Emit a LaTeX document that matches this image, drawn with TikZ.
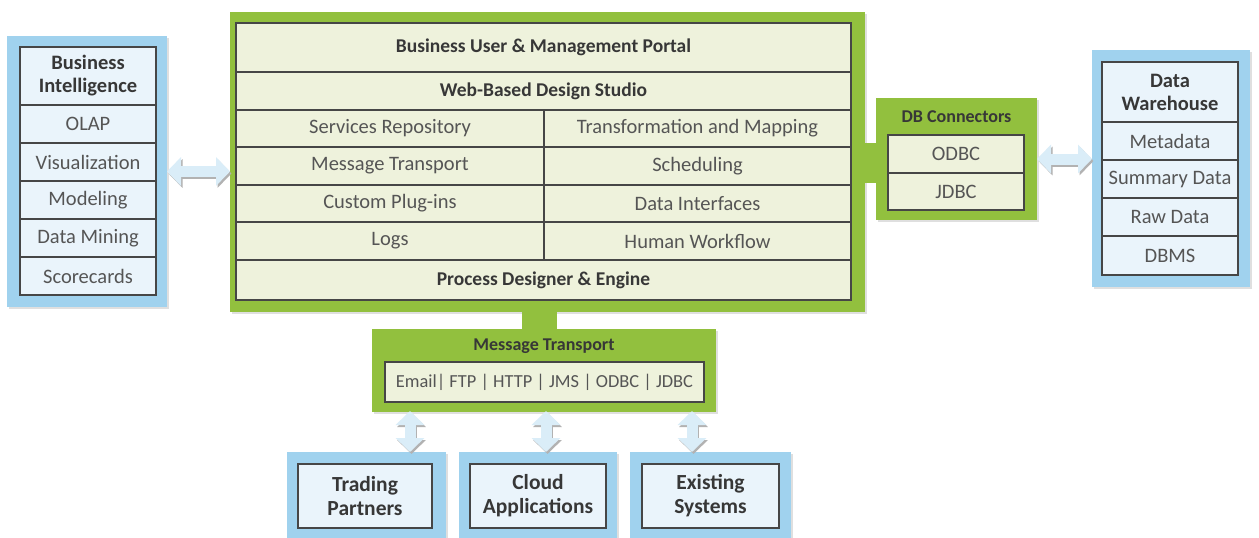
\documentclass[tikz,border=0pt]{standalone}
\usepackage{fontspec}
\setmainfont{Carlito}
\usetikzlibrary{shadows,arrows.meta}
\definecolor{grn}{RGB}{146,192,62}
\definecolor{gcell}{RGB}{238,242,220}
\definecolor{blu}{RGB}{160,210,238}
\definecolor{bcell}{RGB}{234,244,251}
\definecolor{bord}{RGB}{70,70,70}
\definecolor{txt}{RGB}{85,85,85}
\definecolor{hdtxt}{RGB}{55,55,55}
\definecolor{arrblue}{RGB}{218,237,248}
\tikzset{
  base/.style={inner sep=0pt, outer sep=0pt, anchor=north west, align=center},
  panelg/.style={base, fill=grn, draw=none, drop shadow={shadow xshift=2pt, shadow yshift=-2pt, opacity=0.25}},
  panelb/.style={base, fill=blu, draw=none, drop shadow={shadow xshift=2pt, shadow yshift=-2pt, opacity=0.25}},
  cellg/.style={base, draw=bord, line width=1.4pt, fill=gcell, text=txt, font=\fontsize{20.5}{22}\selectfont},
  cellb/.style={base, draw=bord, line width=1.4pt, fill=bcell, text=txt, font=\fontsize{20.5}{22}\selectfont},
  hd/.style={font=\fontsize{19.5}{22}\selectfont\bfseries, text=hdtxt},
  boxhd/.style={font=\fontsize{20.5}{23}\selectfont\bfseries, text=hdtxt},
  lab/.style={inner sep=0pt, font=\fontsize{18}{20}\selectfont\bfseries, text=hdtxt},
  bigarrow/.style={line width=11pt, draw=arrblue, {Triangle[length=14pt,width=28pt]}-{Triangle[length=14pt,width=28pt]}},
  arrshadow/.style={line width=11pt, draw=gray!60, {Triangle[length=14pt,width=28pt]}-{Triangle[length=14pt,width=28pt]}}
}
\begin{document}
\begin{tikzpicture}[x=1pt,y=-1pt]
\useasboundingbox[fill=white] (0,0) rectangle (1259,538);

% ---------- main platform ----------
\node[panelg, minimum width=635pt, minimum height=300pt] (mainbg) at (230,12) {};
\node[cellg, hd, minimum width=615pt, minimum height=49pt] (portal) at (236,23) {Business User \& Management Portal};
\node[cellg, hd, minimum width=615pt, minimum height=38pt] (web) at (236,72) {Web-Based Design Studio};
\node[cellg, minimum width=308pt, minimum height=37pt] (sr) at (236,110) {Services Repository};
\node[cellg, minimum width=307pt, minimum height=37pt] (tm) at (544,110) {Transformation and Mapping};
\node[cellg, minimum width=308pt, minimum height=38pt] (mtr) at (236,147) {Message Transport};
\node[cellg, minimum width=307pt, minimum height=38pt] (sch) at (544,147) {Scheduling};
\node[cellg, minimum width=308pt, minimum height=37pt] (cp) at (236,185) {Custom Plug-ins};
\node[cellg, minimum width=307pt, minimum height=37pt] (di) at (544,185) {Data Interfaces};
\node[cellg, minimum width=308pt, minimum height=38pt] (logs) at (236,222) {Logs};
\node[cellg, minimum width=307pt, minimum height=38pt] (hw) at (544,222) {Human Workflow};
\node[cellg, hd, minimum width=615pt, minimum height=40pt] (pde) at (236,260) {Process Designer \& Engine};

% ---------- DB connectors ----------
\node[base, fill=grn, minimum width=13pt, minimum height=40pt] (dbstub) at (864,143) {};
\node[panelg, minimum width=161pt, minimum height=122pt] (db) at (876,98) {};
\node[lab] (dblab) at (956.5,117) {DB Connectors};
\node[cellg, minimum width=136pt, minimum height=38pt] (odbc) at (888,135) {ODBC};
\node[cellg, minimum width=136pt, minimum height=37pt] (jdbc) at (888,173) {JDBC};

% ---------- Business Intelligence ----------
\node[panelb, minimum width=160pt, minimum height=271pt] (biout) at (7,36) {};
\node[cellb, boxhd, minimum width=136pt, minimum height=58pt] (bih) at (20,47) {Business\\Intelligence};
\node[cellb, minimum width=136pt, minimum height=38pt] (olap) at (20,105) {OLAP};
\node[cellb, minimum width=136pt, minimum height=38pt] (vis) at (20,143) {Visualization};
\node[cellb, minimum width=136pt, minimum height=38pt] (mod) at (20,181) {Modeling};
\node[cellb, minimum width=136pt, minimum height=38pt] (dm) at (20,219) {Data Mining};
\node[cellb, minimum width=136pt, minimum height=38pt] (sc) at (20,257) {Scorecards};

% ---------- Data Warehouse ----------
\node[panelb, minimum width=158pt, minimum height=237pt] (dwout) at (1092,50) {};
\node[cellb, boxhd, minimum width=136pt, minimum height=60pt] (dwh) at (1102,62) {Data\\Warehouse};
\node[cellb, minimum width=136pt, minimum height=38pt] (meta) at (1102,122) {Metadata};
\node[cellb, minimum width=136pt, minimum height=38pt] (sum) at (1102,160) {Summary Data};
\node[cellb, minimum width=136pt, minimum height=38pt] (raw) at (1102,198) {Raw Data};
\node[cellb, minimum width=136pt, minimum height=39pt] (dbms) at (1102,236) {DBMS};

% ---------- Message transport ----------
\node[base, fill=grn, minimum width=35pt, minimum height=20pt] (mtstub) at (522,310) {};
\node[panelg, minimum width=344pt, minimum height=83pt] (mtout) at (372,329) {};
\node[lab] (mtlab) at (544,346) {Message Transport};
\node[cellg, font=\fontsize{18.4}{20}\selectfont, minimum width=319pt, minimum height=40pt] (proto) at (385,362) {Email| FTP | HTTP | JMS | ODBC | JDBC};

% ---------- bottom boxes ----------
\node[panelb, minimum width=159pt, minimum height=90pt] (tpo) at (287,452) {};
\node[cellb, font=\fontsize{21.5}{24}\selectfont\bfseries, text=hdtxt, minimum width=134pt, minimum height=64pt] (tp) at (298,464) {Trading\\Partners};
\node[panelb, minimum width=158pt, minimum height=90pt] (cao) at (459,452) {};
\node[cellb, font=\fontsize{21.5}{24}\selectfont\bfseries, text=hdtxt, minimum width=136pt, minimum height=64pt] (ca) at (470,464) {Cloud\\Applications};
\node[panelb, minimum width=161pt, minimum height=90pt] (eso) at (630,452) {};
\node[cellb, font=\fontsize{21.5}{24}\selectfont\bfseries, text=hdtxt, minimum width=137pt, minimum height=64pt] (es) at (642,464) {Existing\\Systems};

% ---------- arrows ----------
\coordinate (v1) at (410,411);
\coordinate (v2) at (546,411);
\coordinate (v3) at (692,411);
\begin{scope}[transform canvas={xshift=1.5pt, yshift=-2pt}]
  \draw[arrshadow] (biout.east) -- (biout.east -| mainbg.west);
  \draw[arrshadow] (db.east) -- (db.east -| dwout.west);
  \draw[arrshadow] (v1) -- (v1 |- tpo.north);
  \draw[arrshadow] (v2) -- (v2 |- cao.north);
  \draw[arrshadow] (v3) -- (v3 |- eso.north);
\end{scope}
\draw[bigarrow] (biout.east) -- (biout.east -| mainbg.west);
\draw[bigarrow] (db.east) -- (db.east -| dwout.west);
\draw[bigarrow] (v1) -- (v1 |- tpo.north);
\draw[bigarrow] (v2) -- (v2 |- cao.north);
\draw[bigarrow] (v3) -- (v3 |- eso.north);
\end{tikzpicture}
\end{document}
